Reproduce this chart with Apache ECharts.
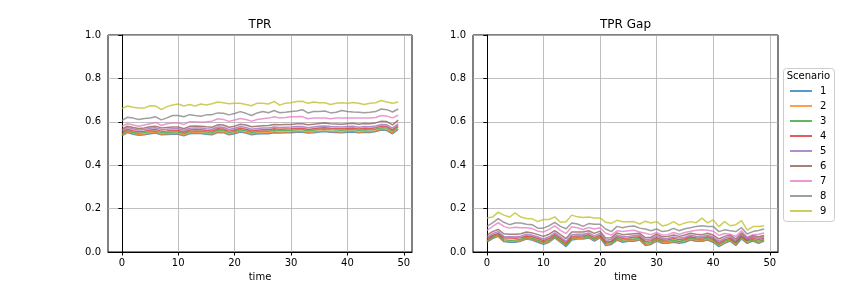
<!DOCTYPE html>
<html>
<head>
<meta charset="utf-8">
<script src="https://cdn.jsdelivr.net/npm/echarts@6/dist/echarts.min.js"></script>
<style>html,body{margin:0;padding:0;background:#fff;}#c{width:864px;height:288px;}</style>
</head>
<body>
<div id="c"></div>
<script>
const scenarios = ['1','2','3','4','5','6','7','8','9'];
const xTicks = [0, 10, 20, 30, 40, 50];
const yTicks = [0, 0.2, 0.4, 0.6, 0.8, 1.0];
const colors = ['#1f77b4','#ff7f0e','#2ca02c','#d62728','#9467bd','#8c564b','#e377c2','#7f7f7f','#bcbd22'];

const tpr1 = [0.535,0.550,0.543,0.538,0.540,0.545,0.548,0.540,0.542,0.543,0.543,0.535,0.545,0.547,0.546,0.543,0.540,0.550,0.550,0.540,0.545,0.553,0.548,0.540,0.544,0.545,0.545,0.550,0.548,0.549,0.550,0.552,0.552,0.548,0.550,0.553,0.555,0.552,0.551,0.550,0.552,0.553,0.549,0.552,0.551,0.555,0.562,0.560,0.545,0.565];
const tpr2 = [0.540,0.553,0.547,0.540,0.543,0.549,0.552,0.543,0.545,0.547,0.546,0.538,0.549,0.551,0.550,0.547,0.544,0.554,0.553,0.543,0.549,0.557,0.552,0.544,0.548,0.549,0.550,0.554,0.551,0.553,0.554,0.556,0.555,0.551,0.554,0.557,0.558,0.555,0.554,0.553,0.556,0.557,0.552,0.555,0.554,0.559,0.566,0.563,0.549,0.568];
const tpr3 = [0.545,0.559,0.552,0.547,0.549,0.555,0.558,0.550,0.551,0.553,0.553,0.545,0.555,0.557,0.556,0.553,0.551,0.561,0.560,0.550,0.555,0.563,0.559,0.551,0.554,0.556,0.556,0.561,0.559,0.560,0.561,0.563,0.563,0.558,0.561,0.564,0.566,0.563,0.562,0.561,0.563,0.564,0.560,0.563,0.562,0.566,0.573,0.571,0.556,0.576];
const tpr4 = [0.552,0.566,0.559,0.554,0.556,0.562,0.565,0.557,0.558,0.560,0.560,0.552,0.562,0.564,0.563,0.560,0.558,0.568,0.567,0.557,0.562,0.570,0.566,0.558,0.561,0.563,0.563,0.568,0.566,0.567,0.568,0.570,0.570,0.565,0.568,0.571,0.573,0.570,0.569,0.568,0.570,0.571,0.567,0.570,0.569,0.573,0.580,0.578,0.563,0.583];
const tpr5 = [0.560,0.574,0.567,0.562,0.564,0.570,0.573,0.565,0.566,0.568,0.568,0.560,0.570,0.572,0.571,0.568,0.566,0.576,0.575,0.565,0.570,0.578,0.574,0.566,0.569,0.571,0.571,0.576,0.574,0.575,0.576,0.578,0.578,0.573,0.576,0.579,0.581,0.578,0.577,0.576,0.578,0.579,0.575,0.578,0.577,0.581,0.588,0.586,0.571,0.591];
const tpr6 = [0.566,0.580,0.574,0.569,0.571,0.577,0.580,0.572,0.574,0.576,0.576,0.568,0.579,0.581,0.580,0.577,0.575,0.586,0.585,0.575,0.580,0.589,0.585,0.577,0.580,0.582,0.583,0.588,0.586,0.587,0.588,0.591,0.591,0.586,0.589,0.592,0.594,0.591,0.590,0.589,0.591,0.593,0.589,0.592,0.591,0.595,0.603,0.601,0.586,0.608];
const tpr7 = [0.580,0.591,0.585,0.580,0.585,0.591,0.597,0.583,0.591,0.595,0.595,0.588,0.600,0.600,0.598,0.600,0.603,0.614,0.611,0.602,0.608,0.615,0.611,0.603,0.611,0.614,0.617,0.623,0.618,0.620,0.623,0.623,0.624,0.614,0.617,0.618,0.618,0.614,0.617,0.618,0.618,0.618,0.617,0.617,0.618,0.620,0.629,0.626,0.618,0.630];
const tpr8 = [0.605,0.621,0.617,0.611,0.615,0.618,0.623,0.609,0.618,0.629,0.629,0.623,0.633,0.629,0.626,0.632,0.633,0.641,0.639,0.632,0.638,0.647,0.639,0.629,0.641,0.647,0.642,0.652,0.642,0.644,0.647,0.650,0.656,0.641,0.647,0.648,0.650,0.641,0.644,0.652,0.648,0.645,0.644,0.642,0.644,0.647,0.659,0.656,0.645,0.659];
const tpr9 = [0.661,0.673,0.667,0.664,0.664,0.674,0.673,0.656,0.670,0.677,0.682,0.673,0.680,0.673,0.682,0.677,0.683,0.691,0.688,0.683,0.686,0.685,0.680,0.674,0.686,0.686,0.682,0.694,0.677,0.686,0.688,0.694,0.695,0.685,0.691,0.688,0.688,0.680,0.685,0.688,0.685,0.689,0.685,0.680,0.685,0.688,0.698,0.691,0.685,0.691];

const gap1 = [0.045,0.062,0.072,0.048,0.045,0.045,0.050,0.060,0.055,0.045,0.035,0.045,0.065,0.045,0.025,0.055,0.060,0.060,0.065,0.050,0.065,0.030,0.035,0.055,0.045,0.050,0.050,0.055,0.030,0.035,0.050,0.040,0.040,0.045,0.040,0.045,0.055,0.050,0.050,0.055,0.045,0.025,0.040,0.050,0.030,0.060,0.040,0.050,0.040,0.050];
const gap2 = [0.050,0.066,0.075,0.050,0.048,0.050,0.052,0.062,0.058,0.050,0.040,0.048,0.068,0.048,0.030,0.060,0.062,0.064,0.068,0.055,0.066,0.035,0.038,0.058,0.050,0.052,0.055,0.058,0.034,0.038,0.054,0.044,0.043,0.048,0.046,0.050,0.058,0.055,0.052,0.058,0.050,0.030,0.044,0.052,0.034,0.064,0.044,0.054,0.044,0.054];
const gap3 = [0.054,0.070,0.080,0.056,0.054,0.055,0.058,0.068,0.063,0.054,0.045,0.054,0.073,0.054,0.034,0.064,0.068,0.069,0.073,0.059,0.072,0.040,0.044,0.063,0.055,0.058,0.060,0.064,0.040,0.044,0.059,0.049,0.050,0.054,0.050,0.055,0.064,0.060,0.058,0.064,0.055,0.035,0.050,0.058,0.040,0.069,0.050,0.058,0.050,0.058];
const gap4 = [0.060,0.076,0.086,0.065,0.064,0.063,0.066,0.074,0.070,0.062,0.052,0.062,0.080,0.062,0.042,0.072,0.074,0.075,0.080,0.066,0.078,0.046,0.050,0.070,0.063,0.065,0.068,0.070,0.048,0.052,0.066,0.055,0.056,0.062,0.057,0.061,0.070,0.066,0.064,0.070,0.062,0.042,0.056,0.064,0.046,0.074,0.055,0.064,0.057,0.064];
const gap5 = [0.068,0.084,0.094,0.072,0.070,0.070,0.073,0.082,0.077,0.069,0.060,0.070,0.088,0.069,0.050,0.080,0.082,0.082,0.088,0.074,0.086,0.054,0.058,0.078,0.070,0.072,0.075,0.078,0.056,0.060,0.073,0.062,0.063,0.069,0.064,0.068,0.077,0.073,0.071,0.077,0.069,0.050,0.063,0.070,0.052,0.080,0.060,0.070,0.063,0.070];
const gap6 = [0.078,0.094,0.104,0.084,0.082,0.082,0.084,0.092,0.088,0.080,0.072,0.082,0.098,0.080,0.062,0.092,0.092,0.092,0.098,0.086,0.096,0.064,0.066,0.088,0.080,0.082,0.084,0.086,0.066,0.068,0.082,0.070,0.072,0.078,0.072,0.078,0.086,0.082,0.080,0.086,0.078,0.060,0.072,0.078,0.060,0.088,0.066,0.076,0.070,0.076];
const gap7 = [0.100,0.117,0.135,0.118,0.110,0.114,0.112,0.112,0.108,0.096,0.092,0.104,0.120,0.100,0.085,0.116,0.112,0.104,0.113,0.106,0.112,0.086,0.078,0.098,0.094,0.098,0.100,0.092,0.086,0.080,0.090,0.078,0.080,0.090,0.082,0.090,0.096,0.100,0.102,0.100,0.096,0.076,0.085,0.082,0.072,0.098,0.068,0.080,0.082,0.088];
const gap8 = [0.118,0.134,0.154,0.137,0.126,0.134,0.134,0.128,0.126,0.110,0.110,0.121,0.137,0.118,0.107,0.134,0.129,0.118,0.131,0.128,0.128,0.106,0.094,0.118,0.112,0.118,0.120,0.110,0.106,0.098,0.106,0.094,0.098,0.109,0.098,0.107,0.112,0.118,0.121,0.118,0.118,0.094,0.102,0.098,0.094,0.112,0.083,0.094,0.099,0.106];
const gap9 = [0.157,0.161,0.184,0.170,0.161,0.180,0.161,0.154,0.153,0.140,0.150,0.150,0.162,0.137,0.139,0.170,0.162,0.159,0.161,0.157,0.157,0.137,0.132,0.146,0.139,0.139,0.140,0.129,0.142,0.134,0.140,0.120,0.126,0.140,0.124,0.134,0.140,0.135,0.156,0.134,0.148,0.117,0.140,0.121,0.126,0.145,0.101,0.117,0.117,0.121];

const tprSeries = [tpr1,tpr2,tpr3,tpr4,tpr5,tpr6,tpr7,tpr8,tpr9];
const gapSeries = [gap1,gap2,gap3,gap4,gap5,gap6,gap7,gap8,gap9];

const FONT = 'DejaVu Sans';
const ALPHA = 0.75;
const chart = echarts.init(document.getElementById('c'), null, {renderer: 'canvas'});

function xAxisDef(gi) {
  return {
    type: 'value', gridIndex: gi, min: -2.45, max: 51.45,
    name: 'time', nameLocation: 'middle', nameGap: 19,
    nameTextStyle: {color: '#000', fontSize: 10, fontFamily: FONT},
    axisLine: {show: true, onZero: false, lineStyle: {color: '#000', width: 1}},
    axisTick: {show: true, length: 3.5, inside: false, customValues: xTicks, lineStyle: {color: '#000'}},
    axisLabel: {show: true, customValues: xTicks, margin: 6, color: '#000', fontSize: 10, fontFamily: FONT},
    splitLine: {show: true, lineStyle: {color: '#b0b0b0', width: 0.8}}
  };
}
function yAxisDef(gi) {
  return {
    type: 'value', gridIndex: gi, min: 0, max: 1, interval: 0.2,
    axisLine: {show: true, lineStyle: {color: '#000', width: 1}},
    axisTick: {show: true, length: 3.5, lineStyle: {color: '#000'}},
    axisLabel: {margin: 7, color: '#000', fontSize: 10, fontFamily: FONT, formatter: v => v.toFixed(1)},
    splitLine: {show: true, lineStyle: {color: '#b0b0b0', width: 0.8}}
  };
}

const series = [];
[tprSeries, gapSeries].forEach((group, gi) => {
  scenarios.forEach((name, i) => {
    series.push({
      name: name, type: 'line', xAxisIndex: gi, yAxisIndex: gi,
      data: group[i].map((v, t) => [t, v]),
      symbol: 'none', showSymbol: false,
      lineStyle: {width: 1.5, color: colors[i], opacity: ALPHA},
      itemStyle: {color: colors[i], opacity: ALPHA},
      animation: false, silent: true
    });
  });
});

chart.setOption({
  animation: false,
  backgroundColor: '#fff',
  textStyle: {fontFamily: FONT},
  title: [
    {text: 'TPR', left: 260, top: 19, textAlign: 'center', textStyle: {fontSize: 12, fontWeight: 'normal', color: '#000', fontFamily: FONT}, padding: 0},
    {text: 'TPR Gap', left: 625.5, top: 19, textAlign: 'center', textStyle: {fontSize: 12, fontWeight: 'normal', color: '#000', fontFamily: FONT}, padding: 0}
  ],
  grid: [
    {left: 108, top: 35, width: 304, height: 217, show: true, borderColor: '#000', borderWidth: 1, backgroundColor: 'transparent'},
    {left: 473, top: 35, width: 305, height: 217, show: true, borderColor: '#000', borderWidth: 1, backgroundColor: 'transparent'}
  ],
  xAxis: [xAxisDef(0), xAxisDef(1)],
  yAxis: [yAxisDef(0), yAxisDef(1)],
  legend: {
    data: scenarios.map((s, i) => ({name: s, icon: 'rect', itemStyle: {color: colors[i], opacity: ALPHA}})),
    orient: 'vertical', left: 790, top: 86,
    itemWidth: 22, itemHeight: 2, itemGap: 5, padding: 0,
    textStyle: {fontSize: 10, color: '#000', fontFamily: FONT, padding: [0, 0, 0, 3]},
    selectedMode: false
  },
  graphic: [
    {type: 'rect', z: -1, shape: {x: 783.5, y: 68.5, width: 51, height: 153, r: 3}, style: {fill: '#fff', stroke: '#cccccc', lineWidth: 1}},
    {type: 'text', x: 808.5, y: 76, style: {text: 'Scenario', fontSize: 10, fontFamily: FONT, fill: '#000', align: 'center', verticalAlign: 'middle'}}
  ],
  series: series
});
</script>
</body>
</html>
